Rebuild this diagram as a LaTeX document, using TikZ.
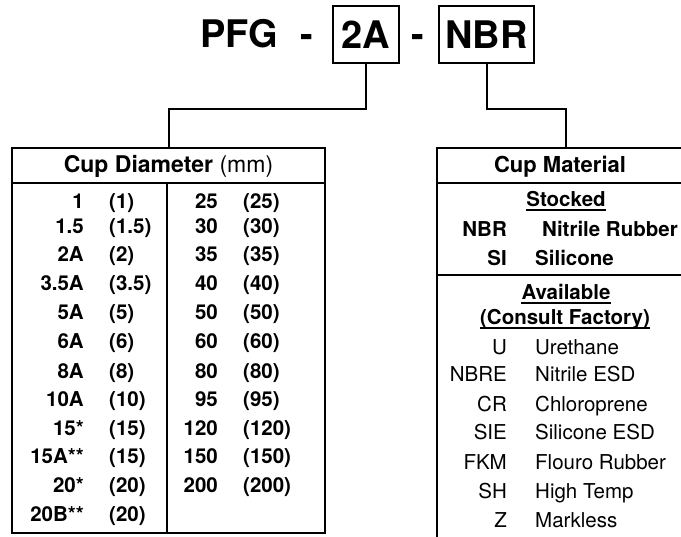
\documentclass[tikz,border=0pt]{standalone}
\usepackage{fontspec}
\setmainfont{TeX Gyre Heros}
\begin{document}
\begin{tikzpicture}[x=1pt,y=-1pt,
  frame/.style={draw=black, line width=2.2pt},
  conn/.style={draw=black, line width=2pt},
  uline/.style={draw=black, line width=1.4pt},
  ttl/.style={font=\fontsize{38}{40}\selectfont\bfseries, inner sep=0pt},
  tbox/.style={ttl, draw=black, line width=2pt, minimum height=57pt},
  hdr/.style={font=\fontsize{22}{24}\selectfont, inner sep=0pt, anchor=base},
  cb/.style={font=\fontsize{20.5}{22}\selectfont\bfseries, inner sep=0pt},
  cr/.style={font=\fontsize{20.5}{22}\selectfont, inner sep=0pt},
]
\useasboundingbox (0,0) rectangle (681,537);

% title
\node[ttl, anchor=base west] (pfg) at (200,48) {PFG};
\node[ttl, anchor=base] (d1) at (306.5,48) {-};
\node[tbox, minimum width=66pt] (code) at (366,34.5) {2A};
\node[ttl, anchor=base] (d2) at (418,48) {-};
\node[tbox, minimum width=95pt] (mat) at (486.5,34.5) {NBR};

% left box
\node[frame, minimum width=313pt, minimum height=385pt, inner sep=0pt] (diam) at (168.5,340.5) {};
\draw[frame] (12,183) -- (325,183);
\draw[frame] (167,183) -- (167,533);
\node[hdr, font=\fontsize{23}{25}\selectfont] (diamhdr) at (168.5,173) {\textbf{Cup Diameter} (mm)};

\foreach \a/\b/\y [count=\i] in {1/(1)/209, 1.5/(1.5)/234, 2A/(2)/262, 3.5A/(3.5)/291,
   5A/(5)/320, 6A/(6)/349, 8A/(8)/379, 10A/(10)/407, 15*/(15)/436, 15A**/(15)/464,
   20*/(20)/493, 20B**/(20)/522} {
  \node[cb, anchor=base east] (la\i) at (84,\y) {\a};
  \node[cb, anchor=base west] (lb\i) at (109,\y) {\b};
}
\foreach \a/\b/\y [count=\i] in {25/(25)/209, 30/(30)/234, 35/(35)/262, 40/(40)/291,
   50/(50)/320, 60/(60)/349, 80/(80)/379, 95/(95)/407, 120/(120)/436, 150/(150)/464,
   200/(200)/493} {
  \node[cb, anchor=base east] (ra\i) at (218,\y) {\a};
  \node[cb, anchor=base west] (rb\i) at (243,\y) {\b};
}

% right box
\draw[frame] (684,148) -- (437,148) -- (437,540);
\draw[frame] (437,183) -- (684,183);
\draw[frame] (437,275) -- (684,275);
\coordinate (matTop) at (566,148);
\node[hdr, font=\fontsize{22}{24}\selectfont\bfseries] (mathdr) at (560,173) {Cup Material};

\node[cb, anchor=base] (stk) at (566,207) {Stocked};
\draw[uline] ([yshift=-3pt]stk.base west) -- ([yshift=-3pt]stk.base east);
\node[cb, anchor=base east] (sc1) at (507,237) {NBR};
\node[cb, anchor=base west] (sn1) at (542,237) {Nitrile Rubber};
\node[cb, anchor=base east] (sc2) at (507,266) {SI};
\node[cb, anchor=base west] (sn2) at (535,266) {Silicone};

\node[cb, anchor=base] (avl) at (566,300) {Available};
\draw[uline] ([yshift=-3pt]avl.base west) -- ([yshift=-3pt]avl.base east);
\node[cb, anchor=base] (cf) at (565,325) {(Consult Factory)};
\draw[uline] ([yshift=-3pt]cf.base west) -- ([yshift=-3pt]cf.base east);

\foreach \a/\b/\y [count=\i] in {U/Urethane/355, NBRE/Nitrile ESD/382, CR/Chloroprene/412,
   SIE/Silicone ESD/440, FKM/Flouro Rubber/470, SH/High Temp/499, Z/Markless/528} {
  \node[cr, anchor=base east] (ac\i) at (507,\y) {\a};
  \node[cr, anchor=base west] (an\i) at (535,\y) {\b};
}

% connectors
\draw[conn] (code.south) -- ++(0,45) -| (diam.north);
\draw[conn] (mat.south) -- ++(0,45) -| (matTop);
\end{tikzpicture}
\end{document}
